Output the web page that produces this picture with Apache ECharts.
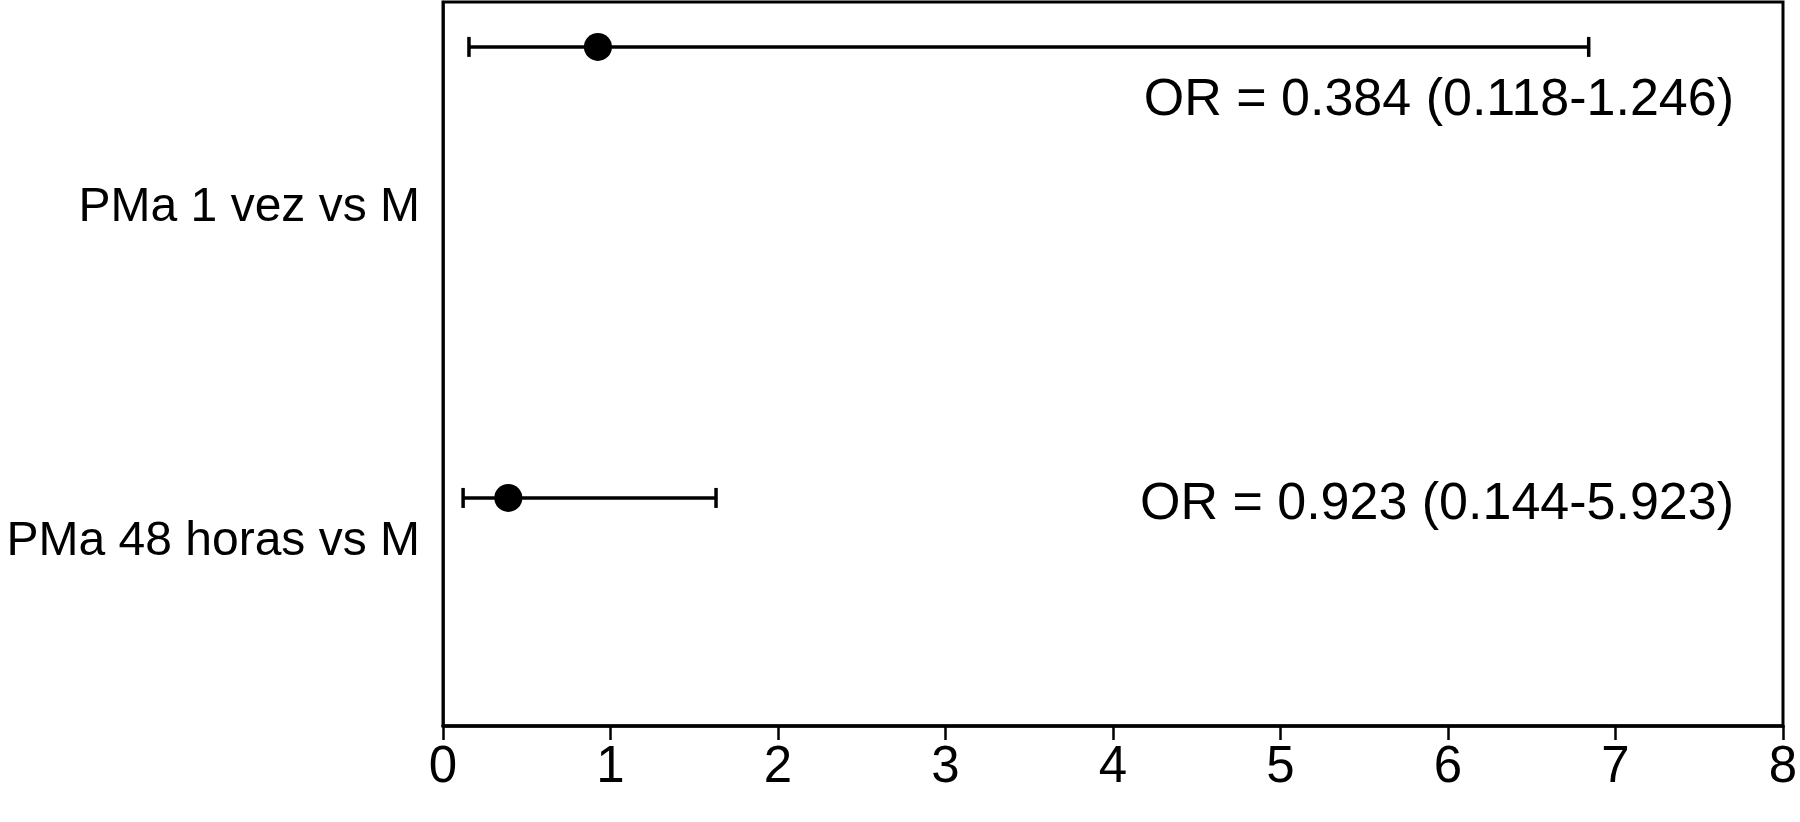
<!DOCTYPE html>
<html>
<head>
<meta charset="utf-8">
<script src="https://cdn.jsdelivr.net/npm/echarts@6/dist/echarts.min.js"></script>
<style>
  html, body { margin: 0; padding: 0; background: #fff; }
  #chart { width: 1800px; height: 822px; }
</style>
</head>
<body>
<div id="chart"></div>
<script>
// data
const categories = ["PMa 1 vez vs M", "PMa 48 horas vs M"];
const orPoint = [0.925, 0.39];
const ciLow = [0.155, 0.12];
const ciHigh = [6.84, 1.63];
const orText = ["OR = 0.384 (0.118-1.246)", "OR = 0.923 (0.144-5.923)"];

// layout (y axis runs 0..100 top to bottom)
const rowY = [6.2, 68.5];
const labelY = [28.45, 74.6];
const orTextTop = [101, 505];

const FONT = "Liberation Sans";

let chart = echarts.init(document.getElementById("chart"));

chart.setOption({
  animation: false,
  backgroundColor: "#fff",
  grid: {
    left: 443,
    right: 17,
    top: 2,
    bottom: 96,
    outerBoundsMode: "none",
    show: true,
    borderColor: "#000",
    borderWidth: 3,
  },
  xAxis: {
    type: "value",
    min: 0,
    max: 8,
    interval: 1,
    splitLine: { show: false },
    axisLine: { onZero: false, lineStyle: { color: "#000", width: 3.5 } },
    axisTick: { length: 14, lineStyle: { color: "#000", width: 2.5 } },
    axisLabel: { color: "#000", fontSize: 51, fontFamily: FONT, margin: 16 },
  },
  yAxis: {
    type: "value",
    inverse: true,
    min: 0,
    max: 100,
    splitLine: { show: false },
    axisLine: { show: true, onZero: false, lineStyle: { color: "#000", width: 2.5 } },
    axisTick: { show: false },
    axisLabel: {
      customValues: labelY,
      color: "#000",
      fontSize: 48,
      fontFamily: FONT,
      margin: 23,
      formatter: function (v) {
        let i = labelY.indexOf(v);
        return i >= 0 ? categories[i] : "";
      },
    },
  },
  series: [
    {
      type: "custom",
      // 置信区间横线 + 两端短竖线
      renderItem: function (params, api) {
        let lo = api.coord([api.value(0), api.value(2)]);
        let hi = api.coord([api.value(1), api.value(2)]);
        let h = 10;
        let st = { stroke: "#000", lineWidth: 3.5 };
        return {
          type: "group",
          children: [
            { type: "line", shape: { x1: lo[0], y1: lo[1], x2: hi[0], y2: hi[1] }, style: st },
            { type: "line", shape: { x1: lo[0], y1: lo[1] - h, x2: lo[0], y2: lo[1] + h }, style: st },
            { type: "line", shape: { x1: hi[0], y1: hi[1] - h, x2: hi[0], y2: hi[1] + h }, style: st },
          ],
        };
      },
      encode: { x: [0, 1], y: 2 },
      data: categories.map((c, i) => [ciLow[i], ciHigh[i], rowY[i]]),
      z: 2,
    },
    {
      type: "scatter",
      symbol: "circle",
      symbolSize: 28,
      itemStyle: { color: "#000", opacity: 1 },
      data: categories.map((c, i) => [orPoint[i], rowY[i]]),
      z: 3,
    },
  ],
  graphic: orText.map((t, i) => ({
    type: "text",
    x: 1734,
    y: orTextTop[i],
    style: {
      text: t,
      fill: "#000",
      font: "52px '" + FONT + "'",
      textAlign: "right",
      textVerticalAlign: "middle",
    },
  })),
});

window.onresize = function () {
  chart.resize();
};
</script>
</body>
</html>
